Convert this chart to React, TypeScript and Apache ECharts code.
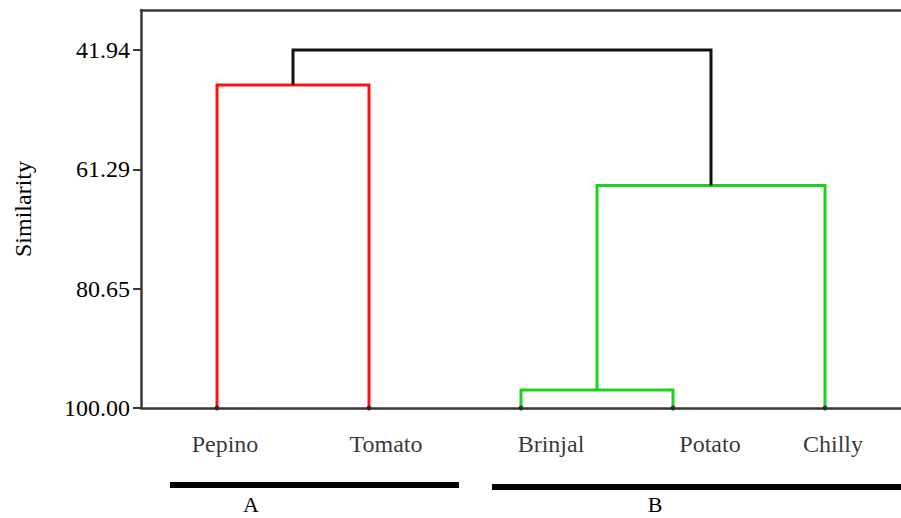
import React, { useEffect, useRef } from "react";
import * as echarts from "echarts";

// ---- data ----
const leafNames = ["Pepino", "Tomato", "Brinjal", "Potato", "Chilly"];
const leafIndex = [0, 1, 2, 3, 4];
const yTickValues = [41.94, 61.29, 80.65, 100.0];
// merges (dendrogram links): left child x / base, right child x / base, join height
const mergeLeftX = [0, 2, 2.5, 0.5];
const mergeLeftBase = [100, 100, 97.1, 47.6];
const mergeRightX = [1, 3, 4, 3.25];
const mergeRightBase = [100, 100, 100, 63.9];
const mergeHeight = [47.6, 97.1, 63.9, 41.94];
const groupNames = ["A", "B"];

// ---- styles ----
const linkColors = ["#ff1111", "#1fd11f", "#1fd11f", "#111111"];
const labelOffsetX = [8, 17, 30, 37, 8];
const FONT = "'Liberation Serif', 'Times New Roman', serif";
const AXIS_COLOR = "#3a3833";

export default function App() {
  const ref = useRef<HTMLDivElement>(null);
  useEffect(() => {
    if (!ref.current) return;
    const chart = echarts.init(ref.current, null, { renderer: "svg" });

    const linkSeries = mergeHeight.map((h, i) => ({
      type: "line",
      data: [
        [mergeLeftX[i], mergeLeftBase[i]],
        [mergeLeftX[i], h],
        [mergeRightX[i], h],
        [mergeRightX[i], mergeRightBase[i]],
      ],
      symbol: "none",
      lineStyle: { color: linkColors[i], width: 3, join: "miter" },
      clip: false,
      z: 3,
    }));

    chart.setOption({
      animation: false,
      backgroundColor: "#ffffff",
      grid: { left: 141, top: 10, right: 0, bottom: 110, containLabel: false },
      xAxis: [
        {
          type: "value",
          min: -0.5,
          max: 4.5,
          axisLine: { show: true, onZero: false, lineStyle: { color: AXIS_COLOR, width: 2.5 } },
          axisTick: { show: false },
          axisLabel: { show: false },
          splitLine: { show: false },
        },
        {
          type: "value",
          position: "top",
          min: -0.5,
          max: 4.5,
          axisLine: { show: true, onZero: false, lineStyle: { color: AXIS_COLOR, width: 2.5 } },
          axisTick: { show: false },
          axisLabel: { show: false },
          splitLine: { show: false },
        },
      ],
      yAxis: {
        type: "value",
        inverse: true,
        min: 35.44,
        max: 100,
        position: "left",
        name: "Similarity",
        nameLocation: "middle",
        nameRotate: 90,
        nameGap: 106,
        nameTextStyle: { fontFamily: FONT, fontSize: 24, color: "#000" },
        axisLine: { show: true, onZero: false, lineStyle: { color: AXIS_COLOR, width: 2.5 } },
        axisTick: {
          show: true,
          length: 8,
          customValues: yTickValues,
          lineStyle: { color: AXIS_COLOR, width: 2 },
        },
        axisLabel: {
          customValues: yTickValues,
          margin: 11,
          fontFamily: FONT,
          fontSize: 24,
          color: "#000",
          formatter: (v: number) => v.toFixed(2),
        },
        splitLine: { show: false },
      },
      series: [
        ...linkSeries,
        {
          type: "scatter",
          data: leafIndex.map((x, i) => ({
            value: [x, 100],
            label: {
              show: true,
              position: "bottom",
              distance: 21,
              offset: [labelOffsetX[i], 0],
              formatter: leafNames[i],
              fontFamily: FONT,
              fontSize: 24,
              color: "#000",
            },
          })),
          symbol: "circle",
          symbolSize: 5,
          itemStyle: { color: "#222" },
          clip: false,
          z: 4,
        },
      ],
      graphic: [
        { type: "rect", shape: { x: 170, y: 482, width: 289, height: 6 }, style: { fill: "#000" } },
        { type: "rect", shape: { x: 492, y: 484, width: 420, height: 6 }, style: { fill: "#000" } },
        {
          type: "text",
          x: 251,
          y: 504,
          style: { text: groupNames[0], font: `22px ${FONT}`, fill: "#000", align: "center", verticalAlign: "middle" },
        },
        {
          type: "text",
          x: 655,
          y: 504,
          style: { text: groupNames[1], font: `22px ${FONT}`, fill: "#000", align: "center", verticalAlign: "middle" },
        },
      ],
    });
    return () => chart.dispose();
  }, []);
  return (
    <div
      ref={ref}
      style={{ position: "absolute", left: 0, top: 0, width: 901, height: 518 }}
    />
  );
}
